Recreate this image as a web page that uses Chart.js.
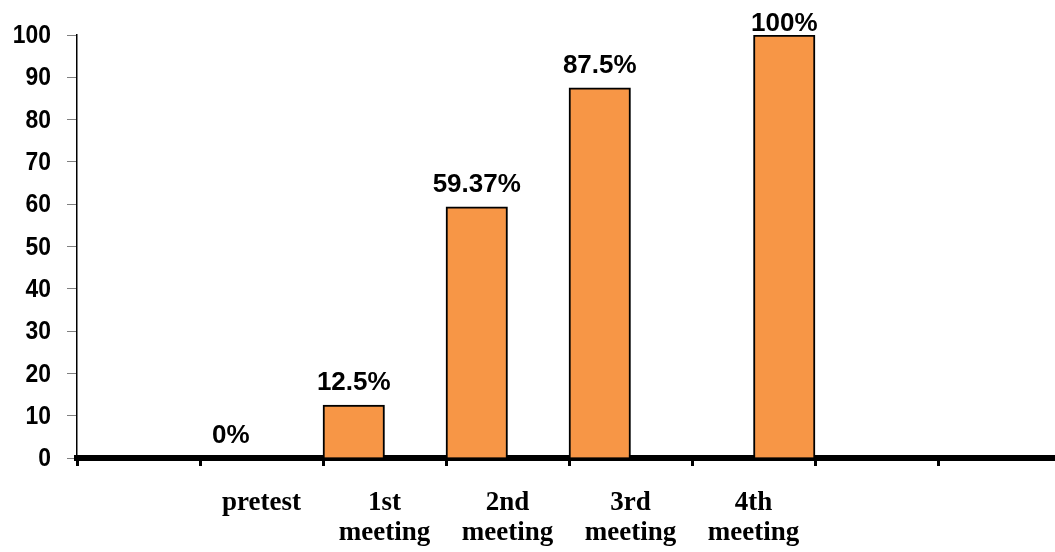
<!DOCTYPE html>
<html>
<head>
<meta charset="utf-8">
<script src="https://cdn.jsdelivr.net/npm/chart.js@4/dist/chart.umd.min.js"></script>
<style>
  html, body { margin: 0; padding: 0; background: #fff; overflow: hidden; }
  #wrap { position: relative; width: 1062px; height: 552px; }
</style>
</head>
<body>
<div id="wrap"><canvas id="chart"></canvas></div>
<script>
// Category slots along the x axis (empty slots keep the spacing)
const categories = ['', 'pretest', ['1st', 'meeting'], ['2nd', 'meeting'], ['3rd', 'meeting'], ['4th', 'meeting'], '', ''];
// Percentages shown in the left half of each slot
const leftValues = [null, 0, 12.5, 59.37, 87.5, null, null, null];
// Percentages shown in the right half of each slot
const rightValues = [null, null, null, null, null, 100, null, null];
// Y axis range and step
const yMin = 0, yMax = 100, yStep = 10;

const barColor = '#F79646';

// Writes the percentage above each bar
const valueLabels = {
  id: 'valueLabels',
  afterDatasetsDraw(chart) {
    const ctx = chart.ctx;
    ctx.save();
    ctx.font = 'bold 26px "Liberation Sans", Arial, sans-serif';
    ctx.fillStyle = '#000';
    ctx.textAlign = 'center';
    ctx.textBaseline = 'alphabetic';
    chart.data.datasets.forEach((ds, i) => {
      const meta = chart.getDatasetMeta(i);
      meta.data.forEach((bar, j) => {
        const v = ds.data[j];
        if (v === null || v === undefined) return;
        const y = Math.max(bar.y - 15, chart.chartArea.top - 4);
        ctx.fillText(v + '%', bar.x, y);
      });
    });
    ctx.restore();
  }
};

// Narrow bold labels for the value axis
const narrowYLabels = {
  id: 'narrowYLabels',
  afterDraw(chart) {
    const scale = chart.scales.y;
    const ctx = chart.ctx;
    const squeeze = 0.88;
    const right = scale.right - 10 - 16;
    ctx.save();
    ctx.font = 'bold 26px "Liberation Sans", Arial, sans-serif';
    ctx.fillStyle = '#000';
    ctx.textAlign = 'right';
    ctx.textBaseline = 'middle';
    scale.ticks.forEach(t => {
      const y = scale.getPixelForValue(t.value);
      ctx.save();
      ctx.translate(right, y + 1);
      ctx.scale(squeeze, 1);
      ctx.fillText(String(t.value), 0, 0);
      ctx.restore();
    });
    ctx.restore();
  }
};

new Chart(document.getElementById('chart'), {
  type: 'bar',
  data: {
    labels: categories,
    datasets: [
      { data: leftValues, backgroundColor: barColor, borderColor: '#000', borderWidth: 2,
        categoryPercentage: 1, barPercentage: 1 },
      { data: rightValues, backgroundColor: barColor, borderColor: '#000', borderWidth: 2,
        categoryPercentage: 1, barPercentage: 1 }
    ]
  },
  options: {
    responsive: true,
    maintainAspectRatio: false,
    animation: false,
    layout: { padding: { top: 35, right: 1, left: 0, bottom: 0 } },
    plugins: { legend: { display: false }, tooltip: { enabled: false } },
    scales: {
      x: {
        offset: true,
        grid: {
          display: true, drawOnChartArea: false, offset: true,
          color: '#000', lineWidth: 3, tickLength: 8
        },
        border: { display: true, color: '#000', width: 6 },
        ticks: {
          color: '#000', padding: 22, maxRotation: 0, autoSkip: false,
          font: { family: '"Liberation Serif", "Times New Roman", serif', size: 27, weight: 'bold', lineHeight: 1.1 }
        },
        afterFit(scale) { scale.height = 94; }
      },
      y: {
        min: yMin, max: yMax,
        grid: { display: true, drawOnChartArea: false, color: '#808080', lineWidth: 1, tickLength: 10 },
        border: { display: true, color: '#000', width: 1.5 },
        ticks: { stepSize: yStep, display: false },
        afterFit(scale) { scale.width = 77; }
      }
    }
  },
  plugins: [valueLabels, narrowYLabels]
});
</script>
</body>
</html>
